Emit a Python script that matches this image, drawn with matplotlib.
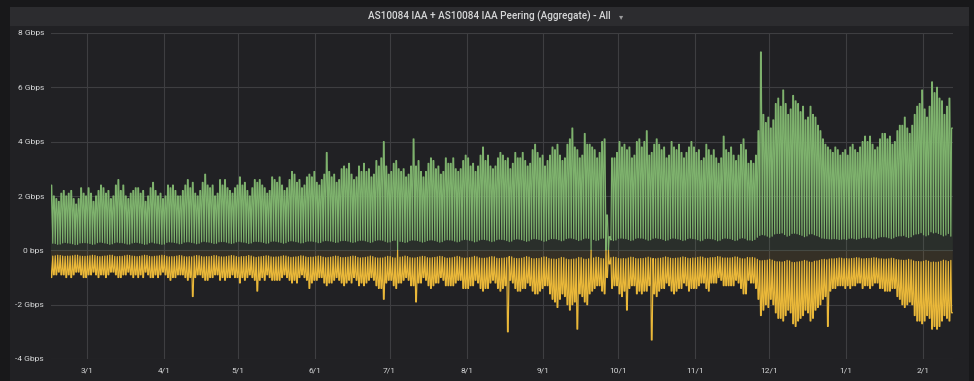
import numpy as np
import matplotlib
matplotlib.use("Agg")
import matplotlib.pyplot as plt
import matplotlib.dates as mdates
from matplotlib.patches import Rectangle
from datetime import datetime

# daily values in Gbps, one row per week, first day Wed 2018-02-14
# inbound daily peak (green, drawn above zero)
in_peak = [
    2.4, 2.0, 1.9, 1.8, 2.1, 2.2, 2.0,
    2.1, 2.2, 1.9, 1.7, 1.9, 2.3, 2.1,
    2.0, 2.3, 2.1, 1.8, 2.0, 2.2, 2.4,
    2.3, 2.1, 2.2, 1.9, 2.0, 2.4, 2.6,
    2.2, 2.4, 2.0, 1.9, 2.1, 2.2, 2.3,
    2.3, 2.1, 2.2, 1.8, 2.0, 2.3, 2.5,
    2.2, 2.0, 2.1, 1.9, 2.0, 2.4, 2.3,
    2.4, 2.2, 2.0, 2.0, 2.2, 2.4, 2.6,
    2.3, 2.5, 2.1, 2.0, 2.2, 2.5, 2.8,
    2.4, 2.3, 2.4, 2.0, 2.1, 2.6, 2.4,
    2.6, 2.3, 2.2, 2.1, 2.3, 2.4, 2.7,
    2.4, 2.5, 2.2, 2.0, 2.3, 2.6, 2.5,
    2.6, 2.4, 2.3, 2.1, 2.2, 2.7, 2.6,
    2.5, 2.7, 2.4, 2.2, 2.3, 2.6, 2.9,
    2.8, 2.5, 2.6, 2.3, 2.4, 2.7, 2.8,
    2.7, 2.9, 2.5, 2.4, 2.6, 2.8, 3.6,
    2.9, 2.7, 2.8, 2.5, 2.6, 3.0, 3.1,
    3.0, 3.2, 2.8, 2.6, 2.7, 3.1, 2.9,
    3.2, 2.9, 3.0, 2.7, 2.8, 3.3, 3.1,
    3.4, 4.0, 3.1, 2.8, 2.9, 3.2, 3.3,
    3.0, 2.9, 3.0, 2.7, 2.8, 3.1, 4.1,
    3.1, 3.3, 2.9, 2.7, 2.9, 3.2, 3.4,
    3.3, 3.0, 3.1, 2.8, 2.9, 3.4, 3.2,
    3.2, 3.4, 3.0, 2.9, 3.0, 3.3, 3.5,
    3.4, 3.1, 3.2, 2.9, 3.1, 3.5, 3.8,
    3.3, 3.5, 3.1, 3.0, 3.1, 3.4, 3.6,
    3.5, 3.3, 3.4, 3.0, 3.2, 3.6, 3.4,
    3.4, 3.6, 3.3, 3.1, 3.2, 3.7, 3.9,
    3.6, 3.4, 3.5, 3.1, 3.3, 3.5, 3.8,
    3.7, 3.9, 3.5, 3.3, 3.4, 3.9, 4.1,
    4.5, 3.8, 3.7, 3.4, 3.5, 4.3, 3.9,
    3.9, 3.8, 3.7, 3.4, 3.6, 4.0, 4.1,
    1.3, 0.5, 3.4, 3.4, 3.6, 4.0, 3.8,
    3.9, 3.7, 3.8, 3.4, 3.5, 4.0, 4.1,
    3.8, 4.0, 4.4, 3.5, 3.6, 3.9, 4.1,
    3.9, 3.7, 3.8, 3.4, 3.5, 4.0, 3.8,
    3.7, 3.9, 3.6, 3.4, 3.6, 3.8, 4.0,
    3.8, 3.6, 3.7, 3.3, 3.4, 3.9, 3.7,
    3.5, 3.7, 3.4, 3.2, 3.4, 4.2, 3.7,
    3.6, 3.8, 3.5, 3.3, 3.5, 3.9, 4.1,
    3.7, 3.2, 3.3, 3.2, 3.5, 4.4, 7.3,
    5.0, 4.7, 4.9, 4.5, 4.8, 5.4, 5.6,
    5.3, 5.9, 5.4, 5.0, 5.2, 5.7, 5.5,
    5.4, 5.1, 5.3, 4.8, 4.9, 5.3, 5.0,
    4.9, 4.6, 4.4, 4.1, 3.9, 3.8, 3.7,
    3.6, 3.8, 3.7, 3.5, 3.6, 3.7, 3.5,
    3.8, 3.9, 3.7, 3.6, 3.8, 4.0, 4.2,
    4.0, 4.2, 3.9, 3.7, 3.8, 4.1, 4.3,
    4.3, 4.1, 4.2, 3.9, 4.0, 4.4, 4.6,
    4.6, 4.9, 4.5, 4.3, 4.6, 5.0, 5.3,
    5.4, 5.9, 5.2, 4.9, 5.3, 6.2, 5.8,
    6.0, 5.6, 5.5, 5.0, 5.3, 5.6, 4.5,
]

# inbound nightly low
in_low = [
    .28, .26, .25, .22, .23, .27, .29,
    .27, .26, .24, .21, .22, .27, .28,
    .28, .27, .25, .22, .23, .28, .30,
    .29, .27, .25, .22, .24, .28, .30,
    .28, .28, .26, .23, .23, .27, .29,
    .29, .27, .25, .22, .23, .28, .30,
    .27, .26, .24, .22, .23, .29, .31,
    .30, .29, .27, .24, .25, .30, .31,
    .31, .29, .27, .24, .26, .31, .33,
    .31, .30, .28, .25, .26, .31, .32,
    .32, .30, .27, .25, .27, .31, .33,
    .31, .30, .28, .25, .27, .32, .33,
    .32, .31, .29, .26, .27, .33, .34,
    .33, .31, .29, .26, .28, .33, .35,
    .34, .32, .30, .27, .28, .32, .34,
    .34, .33, .31, .28, .29, .34, .36,
    .35, .34, .32, .29, .30, .35, .36,
    .36, .34, .31, .29, .31, .35, .37,
    .37, .35, .32, .29, .31, .36, .38,
    .38, .37, .33, .30, .31, .36, .37,
    .00, .33, .32, .29, .31, .36, .38,
    .37, .36, .33, .30, .32, .36, .38,
    .38, .36, .33, .30, .32, .37, .39,
    .38, .37, .34, .31, .33, .38, .40,
    .39, .37, .35, .31, .33, .38, .40,
    .40, .38, .35, .32, .34, .39, .41,
    .40, .39, .36, .32, .34, .40, .42,
    .41, .39, .36, .33, .35, .41, .43,
    .42, .40, .37, .33, .35, .40, .43,
    .43, .42, .39, .35, .37, .43, .45,
    .45, .43, .40, .36, .38, .43, .45,
    .44, .00, .40, .36, .38, .44, .45,
    .00, .00, .38, .36, .38, .44, .45,
    .44, .43, .40, .36, .38, .44, .46,
    .45, .44, .41, .37, .39, .44, .46,
    .44, .43, .40, .36, .38, .43, .45,
    .44, .42, .40, .36, .38, .43, .45,
    .43, .42, .39, .35, .37, .43, .44,
    .43, .42, .39, .35, .37, .43, .45,
    .44, .43, .40, .36, .38, .44, .46,
    .44, .38, .38, .36, .40, .48, .55,
    .58, .56, .52, .48, .52, .60, .62,
    .62, .64, .58, .52, .55, .62, .63,
    .61, .58, .55, .50, .53, .60, .61,
    .57, .54, .50, .45, .44, .43, .42,
    .42, .43, .42, .40, .41, .42, .40,
    .44, .45, .43, .41, .43, .46, .48,
    .47, .48, .45, .42, .44, .48, .50,
    .50, .49, .46, .43, .46, .51, .53,
    .53, .55, .50, .47, .50, .57, .60,
    .61, .65, .57, .53, .57, .68, .64,
    .66, .62, .58, .53, .56, .62, .52,
]

# outbound daily peak (yellow, drawn below zero)
out_peak = [
    1.0, 0.9, 0.9, 0.8, 0.9, 0.9, 1.0,
    0.9, 1.0, 0.9, 0.8, 0.8, 0.9, 1.0,
    1.0, 0.9, 0.9, 0.8, 0.9, 1.0, 0.9,
    0.9, 1.0, 0.9, 0.8, 0.8, 0.9, 1.0,
    1.0, 0.9, 0.9, 0.8, 0.9, 1.0, 0.9,
    1.0, 0.9, 1.0, 0.8, 0.9, 1.0, 1.0,
    0.9, 1.0, 0.9, 0.8, 0.9, 1.0, 1.1,
    1.0, 1.0, 0.9, 0.9, 0.9, 1.0, 1.1,
    1.0, 1.7, 1.0, 0.9, 0.9, 1.0, 1.1,
    1.1, 1.0, 1.0, 0.9, 0.9, 1.1, 1.0,
    1.1, 1.0, 1.0, 0.9, 1.0, 1.0, 1.2,
    1.0, 1.1, 1.0, 0.9, 1.0, 1.1, 1.5,
    1.1, 1.0, 1.1, 0.9, 1.0, 1.1, 1.1,
    1.1, 1.1, 1.0, 0.9, 1.0, 1.1, 1.2,
    1.1, 1.2, 1.0, 0.9, 1.0, 1.1, 1.4,
    1.2, 1.1, 1.1, 1.0, 1.0, 1.2, 1.3,
    1.2, 1.2, 1.1, 1.0, 1.1, 1.2, 1.3,
    1.2, 1.1, 1.2, 1.0, 1.1, 1.3, 1.2,
    1.3, 1.2, 1.1, 1.0, 1.1, 1.3, 1.4,
    1.4, 1.8, 1.2, 1.1, 1.1, 1.3, 1.4,
    1.2, 1.2, 1.1, 1.0, 1.1, 1.3, 1.3,
    1.9, 1.2, 1.2, 1.0, 1.1, 1.3, 1.4,
    1.3, 1.2, 1.2, 1.0, 1.1, 1.3, 1.3,
    1.3, 1.3, 1.2, 1.1, 1.1, 1.4, 1.4,
    1.4, 1.3, 1.3, 1.1, 1.2, 1.4, 1.5,
    1.4, 1.4, 1.2, 1.1, 1.2, 1.4, 1.5,
    1.4, 1.3, 3.0, 1.1, 1.2, 1.4, 1.5,
    1.5, 1.4, 1.4, 1.2, 1.3, 1.5, 1.6,
    1.6, 1.5, 1.4, 1.3, 1.3, 1.6, 1.8,
    1.9, 2.1, 1.8, 1.6, 1.7, 2.0, 2.2,
    2.0, 1.9, 2.9, 1.6, 1.7, 1.9, 2.0,
    1.6, 1.5, 1.4, 1.3, 1.3, 1.5, 1.6,
    1.0, 0.5, 1.4, 1.3, 1.3, 1.6, 1.7,
    1.5, 2.2, 1.4, 1.3, 1.3, 1.6, 1.5,
    1.6, 1.5, 1.5, 1.3, 3.3, 1.6, 1.7,
    1.5, 1.4, 1.4, 1.2, 1.3, 1.5, 1.6,
    1.5, 1.4, 1.4, 1.2, 1.3, 1.5, 1.4,
    1.4, 1.4, 1.3, 1.2, 1.2, 1.4, 1.5,
    1.2, 1.2, 1.2, 1.0, 1.1, 1.3, 1.3,
    1.3, 1.3, 1.3, 1.1, 1.2, 1.4, 1.6,
    1.6, 1.1, 1.2, 1.2, 1.4, 1.8, 2.4,
    2.2, 2.0, 2.1, 1.8, 2.0, 2.3, 2.5,
    2.5, 2.6, 2.4, 2.2, 2.3, 2.7, 2.8,
    2.6, 2.5, 2.4, 2.2, 2.3, 2.6, 2.5,
    2.2, 2.1, 2.0, 1.8, 1.7, 2.8, 1.5,
    1.4, 1.4, 1.3, 1.3, 1.3, 1.4, 1.3,
    1.4, 1.3, 1.3, 1.2, 1.2, 1.4, 1.3,
    1.3, 1.4, 1.3, 1.2, 1.2, 1.4, 1.4,
    1.5, 1.5, 1.5, 1.4, 1.4, 1.7, 1.8,
    2.0, 2.1, 2.0, 1.9, 2.0, 2.4, 2.6,
    2.6, 2.7, 2.6, 2.4, 2.5, 2.9, 2.8,
    2.9, 2.8, 2.6, 2.4, 2.5, 2.6, 2.3,
]

# outbound nightly low
out_low = [
    .22, .21, .20, .18, .19, .21, .22,
    .21, .21, .20, .18, .18, .21, .22,
    .22, .21, .20, .18, .19, .22, .23,
    .22, .21, .20, .18, .18, .22, .23,
    .22, .22, .20, .18, .19, .21, .22,
    .23, .22, .20, .18, .19, .22, .23,
    .22, .21, .20, .18, .19, .22, .24,
    .23, .23, .21, .19, .20, .23, .24,
    .23, .24, .21, .19, .20, .23, .24,
    .23, .23, .22, .19, .20, .23, .24,
    .24, .23, .21, .19, .20, .23, .25,
    .23, .23, .22, .19, .21, .24, .26,
    .24, .23, .22, .20, .21, .24, .25,
    .24, .24, .22, .20, .21, .24, .26,
    .25, .24, .23, .20, .21, .24, .26,
    .25, .25, .23, .21, .22, .25, .27,
    .26, .25, .23, .21, .22, .26, .27,
    .26, .25, .23, .21, .22, .26, .28,
    .27, .26, .24, .21, .23, .27, .28,
    .28, .28, .25, .22, .23, .27, .28,
    .00, .25, .24, .21, .23, .27, .28,
    .28, .26, .24, .22, .23, .27, .28,
    .27, .26, .24, .22, .23, .27, .29,
    .28, .27, .25, .22, .24, .28, .29,
    .28, .27, .25, .22, .24, .28, .29,
    .29, .28, .25, .23, .24, .29, .30,
    .29, .28, .27, .23, .24, .29, .30,
    .30, .29, .26, .23, .25, .30, .31,
    .30, .30, .27, .24, .25, .30, .32,
    .32, .33, .30, .26, .27, .32, .34,
    .33, .32, .31, .26, .27, .32, .33,
    .31, .00, .28, .25, .26, .30, .31,
    .00, .00, .27, .25, .26, .30, .31,
    .30, .31, .28, .25, .26, .30, .31,
    .30, .30, .28, .25, .28, .30, .31,
    .29, .29, .27, .24, .26, .29, .30,
    .29, .28, .27, .24, .26, .29, .30,
    .28, .28, .26, .24, .25, .29, .29,
    .27, .27, .26, .23, .24, .28, .28,
    .28, .28, .27, .24, .25, .29, .31,
    .31, .26, .27, .26, .28, .33, .38,
    .38, .37, .36, .33, .36, .40, .42,
    .42, .43, .41, .37, .39, .44, .45,
    .43, .42, .40, .37, .39, .43, .44,
    .40, .39, .37, .34, .33, .35, .32,
    .31, .31, .30, .28, .29, .31, .30,
    .31, .30, .29, .27, .28, .31, .31,
    .30, .30, .29, .27, .28, .31, .31,
    .32, .32, .31, .29, .30, .34, .35,
    .36, .37, .36, .33, .35, .39, .41,
    .41, .42, .40, .37, .40, .44, .43,
    .44, .43, .40, .36, .38, .41, .37,
]

y_ticks = [8, 6, 4, 2, 0, -2, -4]
y_labels = ["8 Gbps", "6 Gbps", "4 Gbps", "2 Gbps", "0 bps", "-2 Gbps", "-4 Gbps"]
title = "AS10084 IAA + AS10084 IAA Peering (Aggregate) - All"

GREEN = "#7eb26d"
YELLOW = "#eab839"
PAGE = "#18181a"
PANEL = "#212124"
HEADER = "#2c2c2f"
GRID = "#3e3e41"
TEXT = "#d8d9da"

plt.rcParams["font.family"] = ["Roboto", "DejaVu Sans"]

W, H = 974, 381
fig = plt.figure(figsize=(W / 100, H / 100), dpi=100, facecolor=PAGE)
fig.patches.append(Rectangle((10 / W, 0), 959 / W, 374 / H, transform=fig.transFigure,
                             facecolor=PANEL, edgecolor="none", zorder=-2))
fig.patches.append(Rectangle((10 / W, 355 / H), 959 / W, 19 / H, transform=fig.transFigure,
                             facecolor=HEADER, edgecolor="none", zorder=-1))
fig.text(489 / W, 364.5 / H, title, color=TEXT, fontsize=7.2, fontweight="medium",
         ha="center", va="center")
fig.text(621 / W, 364.5 / H, "\u25be", color="#9a9a9c", fontsize=6,
         ha="center", va="center", family=["DejaVu Sans"])

ax = fig.add_axes([51 / W, 22 / H, 902 / W, 326 / H])
ax.set_zorder(2)
ax.set_facecolor(PANEL)

# three samples per day: night low, then the day's peak held over the day
n = len(in_peak)
d0 = mdates.date2num(datetime(2018, 2, 14))
days = d0 + np.arange(n)
t = np.empty(3 * n)
t[0::3] = days + 5 / 24
t[1::3] = days + 12 / 24
t[2::3] = days + 19 / 24
v_in = np.empty(3 * n)
v_in[0::3] = in_low
v_in[1::3] = in_peak
v_in[2::3] = in_peak
v_out = np.empty(3 * n)
v_out[0::3] = out_low
v_out[1::3] = out_peak
v_out[2::3] = out_peak
v_out = -v_out

ax.fill_between(t, 0, v_in, color=GREEN, alpha=0.1, linewidth=0)
ax.fill_between(t, 0, v_out, color=YELLOW, alpha=0.1, linewidth=0)
ax.plot(t, v_in, color=GREEN, lw=0.85)
ax.plot(t, v_out, color=YELLOW, lw=0.85)

ax.set_xlim(d0 + 0.5, mdates.date2num(datetime(2019, 2, 13, 2)))
ax.set_ylim(-4, 8)
ax.set_yticks(y_ticks)
ax.set_yticklabels(y_labels)
ax.xaxis.set_major_locator(mdates.MonthLocator())
ax.xaxis.set_major_formatter(mdates.DateFormatter("%-m/%-d"))

ax.grid(True, color=GRID, lw=0.8)
ax.set_axisbelow(True)
for s in ax.spines.values():
    s.set_visible(False)
ax.tick_params(length=0, colors=TEXT, labelsize=6)
ax.tick_params(axis="y", pad=5)
ax.tick_params(axis="x", pad=6)

fig.savefig("out.png", dpi=100, facecolor=PAGE)
